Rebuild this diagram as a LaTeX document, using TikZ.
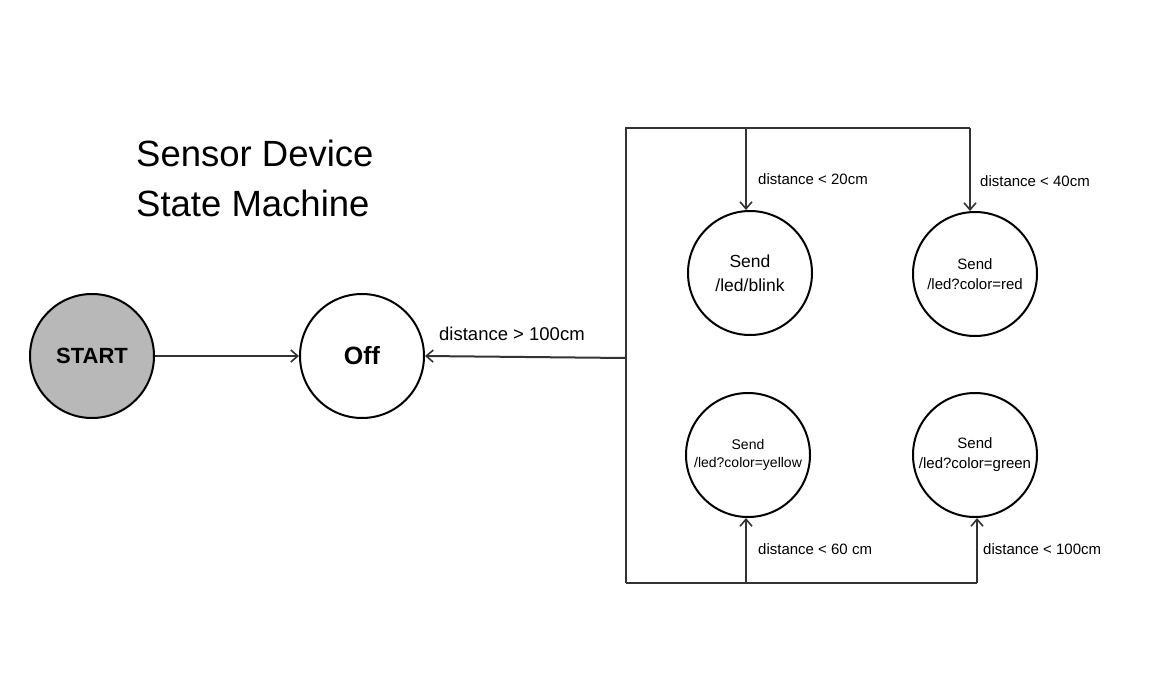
\documentclass[tikz,border=0pt]{standalone}
\usepackage{fontspec}
\setmainfont{Liberation Sans}
\usetikzlibrary{arrows.meta}
\definecolor{ln}{HTML}{333333}
\definecolor{startgray}{HTML}{B8B8B8}
\tikzset{
  state/.style={circle, draw=black, line width=2pt, minimum size=124pt, inner sep=0pt, align=center, text=black},
  conn/.style={draw=ln, line width=2pt, -{Straight Barb[length=7pt,width=12pt,line width=1.6pt]}},
  wire/.style={draw=ln, line width=2pt},
  lbl/.style={inner sep=0pt, anchor=west, text=black}
}
\begin{document}
\begin{tikzpicture}[x=1pt,y=-1pt]
\useasboundingbox (0,0) rectangle (1163,675);
\node[inner sep=0pt, anchor=west, align=left, font=\fontsize{36.5}{50}\selectfont] (title) at (136,178) {Sensor Device\\State Machine};

\node[state, fill=startgray, font=\fontsize{22}{26}\selectfont\bfseries] (start) at (92,356) {START};
\node[state, font=\fontsize{25}{26}\selectfont\bfseries] (off) at (362,356) {Off};
\node[state, font=\fontsize{17.5}{24}\selectfont] (blink) at (750,273) {Send\\/led/blink};
\node[state, font=\fontsize{15}{20}\selectfont] (red) at (975,274) {Send\\/led?color=red};
\node[state, font=\fontsize{14}{18}\selectfont] (yellow) at (748,455) {Send\\/led?color=yellow};
\node[state, font=\fontsize{15}{20}\selectfont] (green) at (975,455) {Send\\/led?color=green};

\coordinate (tl) at (626,128);
\coordinate (tr) at (970,128);
\coordinate (tm) at (746,128);
\coordinate (bl) at (626,583);
\coordinate (br) at (977,583);
\coordinate (bm) at (746,583);
\coordinate (lm) at (626,358);

\draw[conn] (start) -- (off);
\draw[conn] (lm) -- (off.east);
\draw[wire, line join=miter] (bl) -- (tl) -- (tr);
\draw[wire] (bl) -- (br);
\draw[conn] (tm) -- (tm |- blink.north);
\draw[conn] (tr) -- (tr |- red.north);
\draw[conn] (bm) -- (bm |- yellow.south);
\draw[conn] (br) -- (br |- green.south);

\node[lbl, font=\fontsize{18.5}{20}\selectfont] (l100a) at (439,334) {distance > 100cm};
\node[lbl, font=\fontsize{15}{18}\selectfont] (l20) at (758,179) {distance < 20cm};
\node[lbl, font=\fontsize{15}{18}\selectfont] (l40) at (980,181) {distance < 40cm};
\node[lbl, font=\fontsize{15}{18}\selectfont] (l60) at (758,549) {distance < 60 cm};
\node[lbl, font=\fontsize{15}{18}\selectfont] (l100b) at (983,549) {distance < 100cm};
\end{tikzpicture}
\end{document}
